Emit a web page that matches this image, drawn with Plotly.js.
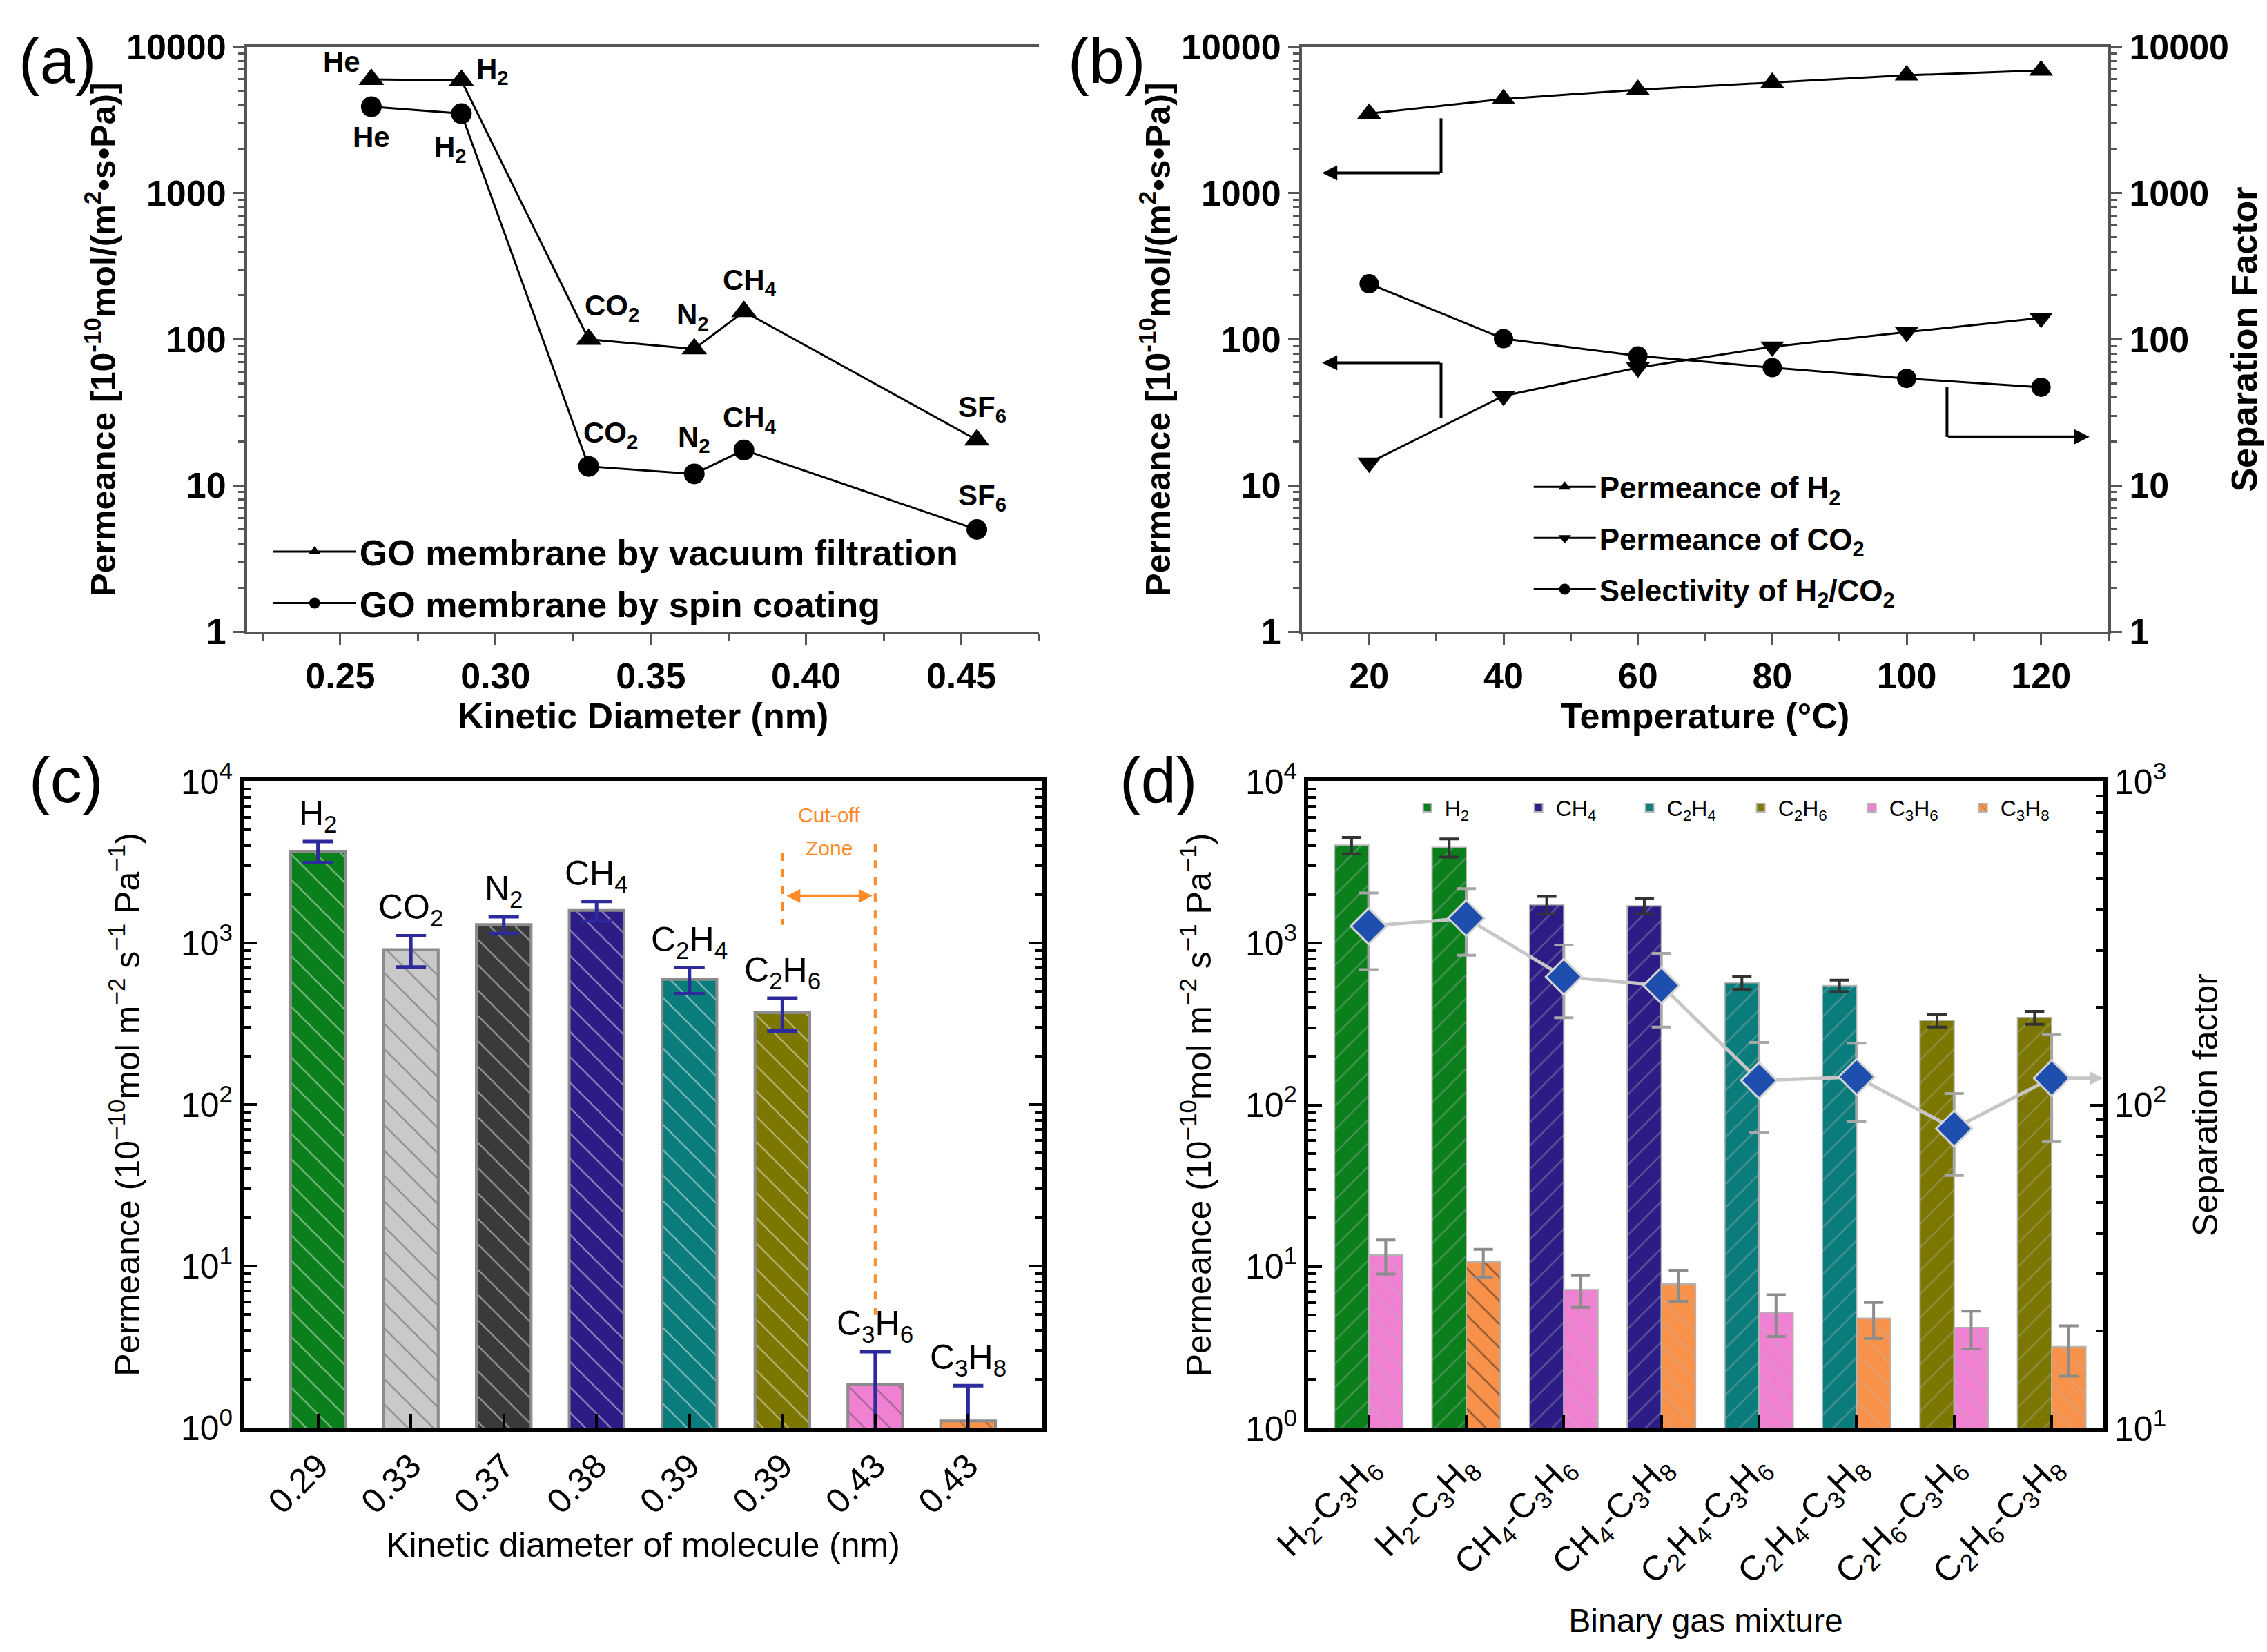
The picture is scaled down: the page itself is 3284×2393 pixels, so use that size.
<!DOCTYPE html>
<html><head><meta charset="utf-8">
<script src="https://cdn.plot.ly/plotly-3.0.1.min.js"></script>
<style>body{margin:0;background:#fff}</style>
</head><body><div id="chart" style="width:3284px;height:2393px"></div>
<script>
// ---------- Panel (a) data ----------
const aDiameter = [0.26, 0.289, 0.33, 0.364, 0.38, 0.455];
const aGasLabels = ['He', 'H<sub>2</sub>', 'CO<sub>2</sub>', 'N<sub>2</sub>', 'CH<sub>4</sub>', 'SF<sub>6</sub>'];
const aVacuum = [6000, 5900, 100, 86, 155, 20.5];
const aSpin = [3900, 3500, 13.5, 12, 17.5, 5.0];
const aSeriesNames = ['GO membrane by vacuum filtration', 'GO membrane by spin coating'];

// ---------- Panel (b) data ----------
const bTemp = [20, 40, 60, 80, 100, 120];
const bH2 = [3500, 4400, 5100, 5700, 6400, 6900];
const bCO2 = [14.3, 41, 64, 89, 112, 140];
const bSelectivity = [240, 101, 77, 64, 54, 47];
const bSeriesNames = ['Permeance of H<sub>2</sub>', 'Permeance of CO<sub>2</sub>', 'Selectivity of H<sub>2</sub>/CO<sub>2</sub>'];

// ---------- Panel (c) data ----------
const cGas = ['H2', 'CO2', 'N2', 'CH4', 'C2H4', 'C2H6', 'C3H6', 'C3H8'];
const cDiameterLabels = ['0.29', '0.33', '0.37', '0.38', '0.39', '0.39', '0.43', '0.43'];
const cPermeance = [3700, 910, 1300, 1590, 595, 370, 1.85, 1.10];
const cError = [550, 200, 155, 220, 110, 85, 1.1, 0.72];

// ---------- Panel (d) data ----------
const dLightGas = ['H2', 'H2', 'CH4', 'CH4', 'C2H4', 'C2H4', 'C2H6', 'C2H6'];
const dHeavyGas = ['C3H6', 'C3H8', 'C3H6', 'C3H8', 'C3H6', 'C3H8', 'C3H6', 'C3H8'];
const dLightPerm = [4040, 3910, 1730, 1700, 569, 546, 333, 347];
const dLightErr = [470, 500, 215, 180, 50, 45, 30, 32];
const dHeavyPerm = [11.8, 10.7, 7.2, 7.8, 5.2, 4.8, 4.2, 3.2];
const dHeavyErr = [2.8, 2.1, 1.6, 1.7, 1.5, 1.2, 1.1, 1.1];
const dSepFactor = [357, 378, 249, 234, 119, 122, 84.5, 121];
const dSepErr = [95, 88, 63, 60, 37, 33, 24, 44];

const gasHtml = {
  He: 'He', H2: 'H<sub>2</sub>', CO2: 'CO<sub>2</sub>', N2: 'N<sub>2</sub>', CH4: 'CH<sub>4</sub>',
  C2H4: 'C<sub>2</sub>H<sub>4</sub>', C2H6: 'C<sub>2</sub>H<sub>6</sub>',
  C3H6: 'C<sub>3</sub>H<sub>6</sub>', C3H8: 'C<sub>3</sub>H<sub>8</sub>'
};
const dLegendOrder = ['H2', 'CH4', 'C2H4', 'C2H6', 'C3H6', 'C3H8'];

// ---------- styles ----------
const gasColor = {
  H2: '#0b7f1b', CO2: '#c9c9c9', N2: '#3a3a3a', CH4: '#2d1b86',
  C2H4: '#0b7c7c', C2H6: '#7b7700', C3H6: '#f080d2', C3H8: '#f8914a'
};
const W = 3284, H = 2393;
const domX = (a, b) => [a / W, b / W];
const domY = (top, bottom) => [1 - bottom / H, 1 - top / H];
const FONT = 'Liberation Sans, Arial, Helvetica, sans-serif';
const boldFont = (s) => ({family: FONT, size: s, color: '#000', weight: 700});
const regFont = (s) => ({family: FONT, size: s, color: '#000'});
const logVals = [1, 10, 100, 1000, 10000];
const log10 = Math.log10;

const traces = [];

// (a)
traces.push({type: 'scatter', x: aDiameter, y: aVacuum, xaxis: 'x', yaxis: 'y', mode: 'lines+markers',
  name: aSeriesNames[0], legend: 'legend', legendgroup: 'a1',
  line: {color: '#000', width: 3}, marker: {symbol: 'triangle-up', size: 32, color: '#000'}});
traces.push({type: 'scatter', x: aDiameter, y: aSpin, xaxis: 'x', yaxis: 'y', mode: 'lines+markers',
  name: aSeriesNames[1], legend: 'legend', legendgroup: 'a2',
  line: {color: '#000', width: 3}, marker: {symbol: 'circle', size: 30, color: '#000'}});

// (b)
traces.push({type: 'scatter', x: bTemp, y: bH2, xaxis: 'x2', yaxis: 'y2', mode: 'lines+markers',
  name: bSeriesNames[0], legend: 'legend2', legendgroup: 'b1',
  line: {color: '#000', width: 3}, marker: {symbol: 'triangle-up', size: 30, color: '#000'}});
traces.push({type: 'scatter', x: bTemp, y: bCO2, xaxis: 'x2', yaxis: 'y2', mode: 'lines+markers',
  name: bSeriesNames[1], legend: 'legend2', legendgroup: 'b2',
  line: {color: '#000', width: 3}, marker: {symbol: 'triangle-down', size: 30, color: '#000'}});
traces.push({type: 'scatter', x: bTemp, y: bSelectivity, xaxis: 'x2', yaxis: 'y3', mode: 'lines+markers',
  name: bSeriesNames[2], legend: 'legend2', legendgroup: 'b3',
  line: {color: '#000', width: 3}, marker: {symbol: 'circle', size: 28, color: '#000'}});

// (c)
const cIdx = cGas.map((_, i) => i);
traces.push({type: 'bar', x: cIdx, y: cPermeance, xaxis: 'x3', yaxis: 'y4', width: 0.59, showlegend: false,
  marker: {color: cGas.map(g => gasColor[g]), line: {color: '#8c8c8c', width: 4},
    pattern: {shape: '\\', fgcolor: 'rgba(170,170,170,0.75)', size: 26, solidity: 0.08, fillmode: 'overlay'}},
  error_y: {type: 'data', array: cError, color: '#2c2a9c', thickness: 5, width: 22}});

// (d) bars
const dIdx = dLightGas.map((_, i) => i);
dLegendOrder.forEach(g => {
  const lightI = dIdx.filter(i => dLightGas[i] === g);
  const heavyI = dIdx.filter(i => dHeavyGas[i] === g);
  const isLight = lightI.length > 0;
  const idx = isLight ? lightI : heavyI;
  const ys = idx.map(i => isLight ? dLightPerm[i] : dHeavyPerm[i]);
  const es = idx.map(i => isLight ? dLightErr[i] : dHeavyErr[i]);
  const fg = idx.map((i, k) => (g === 'C3H8' && k === 0) ? 'rgba(20,20,20,0.95)' : 'rgba(185,185,185,0.7)');
  traces.push({type: 'bar', x: idx, y: ys, xaxis: 'x4', yaxis: 'y5', name: gasHtml[g], legend: 'legend3',
    width: 0.35, offset: isLight ? -0.35 : 0,
    marker: {color: gasColor[g], line: {color: '#b4b4b4', width: 2},
      pattern: {shape: isLight ? '/' : '\\', fgcolor: fg, size: 24, solidity: 0.1, fillmode: 'overlay'}},
    error_y: {type: 'data', array: es, color: isLight ? '#333' : '#8c8c8c', thickness: 4, width: 14}});
});
// (d) separation factor
traces.push({type: 'scatter', x: dIdx, y: dSepFactor, xaxis: 'x4', yaxis: 'y6', mode: 'lines+markers', showlegend: false,
  line: {color: '#c6c6c6', width: 5},
  marker: {symbol: 'diamond', size: 40, color: '#1f4fae', line: {color: '#d4d4d4', width: 3}},
  error_y: {type: 'data', array: dSepErr, color: '#a6a6a6', thickness: 4, width: 14}});

// ---------- axes ----------
const abTick = {ticks: 'outside', ticklen: 16, tickwidth: 3, tickcolor: '#555', showline: true, linecolor: '#555',
  linewidth: 4, showgrid: false, zeroline: false, tickfont: boldFont(52)};
const cdTick = {ticks: 'inside', ticklen: 20, tickwidth: 4, tickcolor: '#000', showline: true, linecolor: '#000',
  linewidth: 6, showgrid: false, zeroline: false, tickfont: regFont(50)};
const abLogY = Object.assign({}, abTick, {type: 'log', range: [0, 4], tickmode: 'array', tickvals: logVals,
  ticktext: logVals.map(String),
  minor: {ticks: 'outside', ticklen: 9, tickwidth: 3, tickcolor: '#555', dtick: 'D1', showgrid: false}});
const cdLogY = (lo, hi) => {
  const v = [], t = [];
  for (let e = lo; e <= hi; e++) { v.push(Math.pow(10, e)); t.push('10<sup>' + e + '</sup>'); }
  return Object.assign({}, cdTick, {type: 'log', range: [lo, hi], tickmode: 'array', tickvals: v, ticktext: t,
    minor: {ticks: 'inside', ticklen: 11, tickwidth: 4, tickcolor: '#000', dtick: 'D1', showgrid: false}});
};
const permTitleAB = 'Permeance [10<sup>-10</sup>mol/(m<sup>2</sup>•s•Pa)]';
const permTitleCD = 'Permeance (10<sup>−10</sup>mol m<sup>−2</sup> s<sup>−1</sup> Pa<sup>−1</sup>)';

const layout = {
  width: W, height: H, autosize: false, margin: {l: 0, r: 0, t: 0, b: 0},
  paper_bgcolor: '#fff', plot_bgcolor: 'rgba(0,0,0,0)', barmode: 'overlay',
  font: {family: FONT, color: '#000'},
  xaxis: Object.assign({}, abTick, {domain: domX(358, 1505), anchor: 'y', range: [0.22, 0.475],
    tickmode: 'linear', tick0: 0.25, dtick: 0.05, tickformat: '.2f', mirror: true,
    minor: {ticks: 'outside', ticklen: 9, tickwidth: 3, tickcolor: '#555', tick0: 0.225, dtick: 0.025, showgrid: false},
    title: {text: 'Kinetic Diameter (nm)', font: boldFont(52), standoff: 2}}),
  yaxis: Object.assign({}, abLogY, {domain: domY(68, 915), anchor: 'x',
    title: {text: permTitleAB, font: boldFont(50), standoff: 0}}),
  xaxis2: Object.assign({}, abTick, {domain: domX(1886, 3054), anchor: 'y2', range: [10, 130],
    tickmode: 'linear', tick0: 0, dtick: 20, mirror: true,
    minor: {ticks: 'outside', ticklen: 9, tickwidth: 3, tickcolor: '#555', tick0: 0, dtick: 10, showgrid: false},
    title: {text: 'Temperature (°C)', font: boldFont(52), standoff: 2}}),
  yaxis2: Object.assign({}, abLogY, {domain: domY(68, 915), anchor: 'x2',
    title: {text: permTitleAB, font: boldFont(50), standoff: 0}}),
  yaxis3: Object.assign({}, abLogY, {overlaying: 'y2', anchor: 'x2', side: 'right',
    title: {text: 'Separation Factor', font: boldFont(52), standoff: 6}}),
  xaxis3: Object.assign({}, cdTick, {domain: domX(353, 1510), anchor: 'y4', range: [-0.8, 7.8],
    tickmode: 'array', tickvals: cIdx, ticktext: cDiameterLabels, tickangle: -45, mirror: true,
    title: {text: 'Kinetic diameter of molecule (nm)', font: regFont(50), standoff: 20}}),
  yaxis4: Object.assign({}, cdLogY(0, 4), {domain: domY(1132, 2068), anchor: 'x3', mirror: 'ticks',
    title: {text: permTitleCD, font: regFont(50), standoff: 45}}),
  xaxis4: Object.assign({}, cdTick, {domain: domX(1895, 3047), anchor: 'y5', range: [-0.62, 7.53],
    tickmode: 'array', tickvals: dIdx, ticktext: dIdx.map(i => gasHtml[dLightGas[i]] + '-' + gasHtml[dHeavyGas[i]]),
    tickangle: -45, mirror: true,
    title: {text: 'Binary gas mixture', font: regFont(48), standoff: 24}}),
  yaxis5: Object.assign({}, cdLogY(0, 4), {domain: domY(1132, 2069), anchor: 'x4',
    title: {text: permTitleCD, font: regFont(50), standoff: 35}}),
  yaxis6: Object.assign({}, cdLogY(1, 3), {overlaying: 'y5', anchor: 'x4', side: 'right',
    title: {text: 'Separation factor', font: regFont(50), standoff: 42}}),
  legend: {x: 0.119, y: 0.683, xanchor: 'left', yanchor: 'top', bgcolor: 'rgba(0,0,0,0)',
    font: boldFont(52), tracegroupgap: 4, itemwidth: 120},
  legend2: {x: 0.675, y: 0.72, xanchor: 'left', yanchor: 'top', bgcolor: 'rgba(0,0,0,0)',
    font: boldFont(44), tracegroupgap: 14, itemwidth: 90},
  legend3: {x: 0.622, y: 0.5225, xanchor: 'left', yanchor: 'top', orientation: 'h', bgcolor: 'rgba(0,0,0,0)',
    font: regFont(32), entrywidth: 106, entrywidthmode: 'pixels', traceorder: 'normal', itemwidth: 40},
  shapes: [], annotations: []
};

// panel letters
[['(a)', 25, 88], ['(b)', 1545, 88], ['(c)', 40, 1130], ['(d)', 1620, 1130]].forEach(p => {
  layout.annotations.push({xref: 'paper', yref: 'paper', x: p[1] / W, y: 1 - p[2] / H, xanchor: 'left', yanchor: 'middle',
    text: p[0], showarrow: false, font: regFont(92)});
});

// (a) point labels
const vacPos = [['right', 'bottom', -14, 0], ['left', 'middle', 20, 14], ['left', 'bottom', -8, 18],
  ['center', 'bottom', -2, 18], ['center', 'bottom', 8, 14], ['center', 'bottom', 8, 16]];
const spinPos = [['center', 'top', 0, -18], ['center', 'top', -16, -22], ['left', 'bottom', -10, 18],
  ['center', 'bottom', 0, 22], ['center', 'bottom', 8, 16], ['center', 'bottom', 8, 18]];
[[aVacuum, vacPos], [aSpin, spinPos]].forEach(([vals, pos]) => {
  vals.forEach((v, i) => {
    layout.annotations.push({xref: 'x', yref: 'y', x: aDiameter[i], y: log10(v), text: aGasLabels[i], showarrow: false,
      xanchor: pos[i][0], yanchor: pos[i][1], xshift: pos[i][2], yshift: pos[i][3], font: boldFont(42)});
  });
});

// (b) arrows
const bArrow = {color: '#000', width: 4};
[[30.7, 3250, 1375, 13], [30.7, 29, 69, 13], [106, 47, 21.5, 127.2]].forEach(a => {
  const yFrom = log10(a[1]) / 4, yTo = log10(a[2]) / 4;
  layout.shapes.push({type: 'line', xref: 'x2', yref: 'y2 domain', x0: a[0], x1: a[0], y0: yFrom, y1: yTo, line: bArrow});
  layout.annotations.push({xref: 'x2', yref: 'y2 domain', x: a[3], y: yTo, ax: (a[0] - a[3]) * 9.73, ay: 0,
    axref: 'pixel', ayref: 'pixel', text: '', showarrow: true, arrowhead: 2, arrowsize: 1.1, arrowwidth: 4,
    arrowcolor: '#000', standoff: 0, startstandoff: 0});
});

// (c) bar labels
cGas.forEach((g, i) => {
  layout.annotations.push({xref: 'x3', yref: 'y4', x: i, y: log10(cPermeance[i] + cError[i]), text: gasHtml[g],
    showarrow: false, yanchor: 'bottom', yshift: 4, font: regFont(50)});
});
// (c) cut-off zone
const orange = '#ff8a2a';
layout.shapes.push({type: 'line', xref: 'x3', yref: 'y4 domain', x0: 5, x1: 5, y0: 0.89, y1: 0.778,
  line: {color: orange, width: 4, dash: 'dash'}});
layout.shapes.push({type: 'line', xref: 'x3', yref: 'y4 domain', x0: 6, x1: 6, y0: 0.9035, y1: 0.1745,
  line: {color: orange, width: 4, dash: 'dash'}});
layout.annotations.push({xref: 'x3', yref: 'y4 domain', x: 5.97, y: 0.823, ax: -126, ay: 0, axref: 'pixel', ayref: 'pixel',
  text: '', showarrow: true, arrowside: 'end+start', arrowhead: 2, arrowsize: 1, arrowwidth: 4, arrowcolor: orange});
layout.annotations.push({xref: 'x3', yref: 'y4 domain', x: 5.5, y: 0.968, text: 'Cut-off', showarrow: false,
  font: {family: FONT, size: 30, color: orange}});
layout.annotations.push({xref: 'x3', yref: 'y4 domain', x: 5.5, y: 0.917, text: 'Zone', showarrow: false,
  font: {family: FONT, size: 30, color: orange}});

// (d) trailing arrow of separation factor line
layout.annotations.push({xref: 'x4', yref: 'y6', x: 7.53, y: log10(dSepFactor[dSepFactor.length - 1]), ax: -64, ay: 0,
  axref: 'pixel', ayref: 'pixel', text: '', showarrow: true, arrowhead: 2, arrowsize: 0.8, arrowwidth: 5,
  arrowcolor: '#c6c6c6', standoff: 0, startstandoff: 10});

Plotly.newPlot('chart', traces, layout, {staticPlot: true, displayModeBar: false});
</script>
</body></html>
